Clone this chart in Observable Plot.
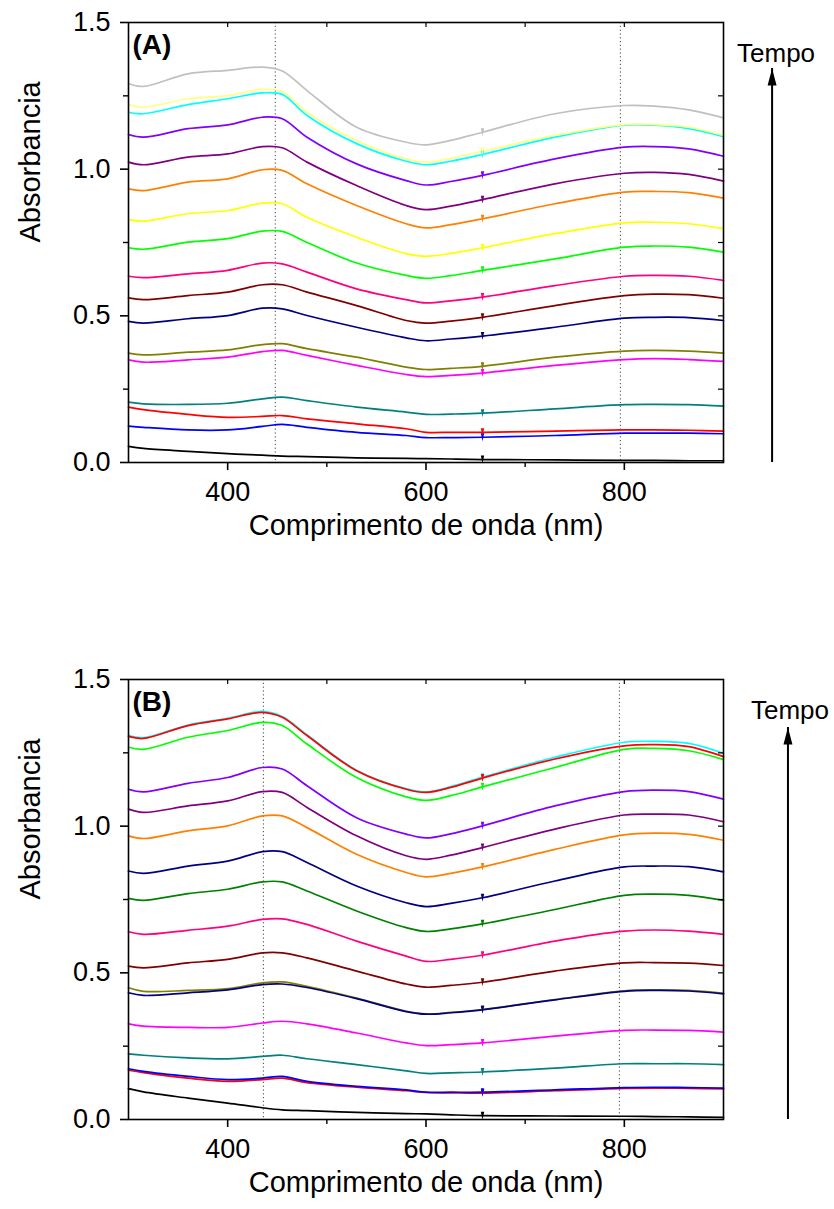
<!DOCTYPE html>
<html>
<head>
<meta charset="utf-8">
<script src="https://cdn.jsdelivr.net/npm/d3@7"></script>
<script src="https://cdn.jsdelivr.net/npm/@observablehq/plot@0.6"></script>
<style>
  html, body { margin: 0; padding: 0; background: #fff; }
  #wrap { position: relative; width: 834px; height: 1209px; background: #fff; }
  #wrap > div { position: absolute; left: 0; }
</style>
</head>
<body>
<div id="wrap"><div id="pa" style="top:0px"></div><div id="pb" style="top:657px"></div></div>
<script>
// Wavelength sampling points (nm)
const wavelengths = [300, 315, 360, 400, 435, 455, 480, 530, 580, 600, 625, 657, 730, 800, 830, 865, 900];
// Wavelength of the small instrument glitch (lamp change)
const glitchWavelength = 657;

// ---- Panel (A) absorbance spectra ----
const A_gray      = [1.291, 1.282, 1.325, 1.337, 1.348, 1.335, 1.268, 1.143, 1.092, 1.083, 1.098, 1.126, 1.189, 1.217, 1.215, 1.202, 1.175];
const A_lightyel  = [1.220, 1.211, 1.240, 1.251, 1.272, 1.265, 1.194, 1.098, 1.035, 1.024, 1.037, 1.061, 1.115, 1.152, 1.152, 1.143, 1.115];
const A_cyan      = [1.194, 1.189, 1.220, 1.240, 1.260, 1.255, 1.183, 1.087, 1.027, 1.015, 1.027, 1.050, 1.109, 1.150, 1.150, 1.138, 1.111];
const A_violet    = [1.118, 1.109, 1.138, 1.151, 1.177, 1.172, 1.109, 1.018, 0.961, 0.946, 0.958, 0.979, 1.035, 1.075, 1.077, 1.069, 1.044];
const A_purple    = [1.024, 1.015, 1.041, 1.052, 1.077, 1.073, 1.024, 0.944, 0.876, 0.862, 0.874, 0.896, 0.950, 0.986, 0.989, 0.982, 0.959];
const A_orange    = [0.933, 0.927, 0.956, 0.967, 0.998, 0.996, 0.950, 0.876, 0.814, 0.800, 0.811, 0.831, 0.882, 0.922, 0.924, 0.920, 0.901];
const A_yellow    = [0.828, 0.823, 0.848, 0.859, 0.884, 0.882, 0.836, 0.768, 0.712, 0.703, 0.713, 0.732, 0.780, 0.817, 0.819, 0.814, 0.797];
const A_green     = [0.732, 0.727, 0.751, 0.763, 0.789, 0.788, 0.750, 0.680, 0.638, 0.628, 0.637, 0.655, 0.694, 0.734, 0.738, 0.734, 0.717];
const A_pink      = [0.635, 0.630, 0.643, 0.655, 0.680, 0.677, 0.649, 0.592, 0.555, 0.544, 0.551, 0.564, 0.603, 0.635, 0.638, 0.635, 0.621];
const A_maroon    = [0.561, 0.555, 0.569, 0.581, 0.606, 0.606, 0.581, 0.535, 0.484, 0.475, 0.482, 0.495, 0.535, 0.569, 0.574, 0.572, 0.560];
const A_navy      = [0.481, 0.475, 0.490, 0.501, 0.526, 0.524, 0.501, 0.461, 0.425, 0.415, 0.421, 0.431, 0.461, 0.492, 0.495, 0.494, 0.484];
const A_olive     = [0.373, 0.367, 0.376, 0.384, 0.402, 0.405, 0.388, 0.359, 0.325, 0.317, 0.321, 0.328, 0.359, 0.380, 0.382, 0.380, 0.373];
const A_magenta   = [0.350, 0.342, 0.350, 0.359, 0.378, 0.382, 0.365, 0.331, 0.300, 0.293, 0.297, 0.305, 0.331, 0.351, 0.354, 0.351, 0.345];
const A_teal      = [0.206, 0.200, 0.198, 0.202, 0.217, 0.223, 0.211, 0.189, 0.172, 0.164, 0.165, 0.168, 0.183, 0.197, 0.198, 0.197, 0.192];
const A_red       = [0.189, 0.180, 0.164, 0.154, 0.157, 0.160, 0.149, 0.132, 0.115, 0.103, 0.103, 0.103, 0.107, 0.111, 0.111, 0.110, 0.107];
const A_blue      = [0.124, 0.120, 0.111, 0.111, 0.123, 0.130, 0.120, 0.103, 0.092, 0.085, 0.085, 0.086, 0.092, 0.100, 0.100, 0.100, 0.098];
const A_black     = [0.055, 0.048, 0.038, 0.030, 0.025, 0.022, 0.020, 0.016, 0.014, 0.013, 0.012, 0.010, 0.009, 0.007, 0.007, 0.006, 0.006];

// ---- Panel (B) absorbance spectra ----
const B_cyan      = [1.309, 1.302, 1.345, 1.368, 1.391, 1.374, 1.312, 1.191, 1.128, 1.117, 1.135, 1.167, 1.235, 1.286, 1.289, 1.282, 1.248];
const B_red       = [1.306, 1.299, 1.343, 1.366, 1.388, 1.371, 1.309, 1.189, 1.126, 1.115, 1.132, 1.164, 1.229, 1.274, 1.278, 1.271, 1.237];
const B_green     = [1.269, 1.262, 1.303, 1.326, 1.354, 1.343, 1.280, 1.166, 1.100, 1.088, 1.104, 1.134, 1.200, 1.262, 1.265, 1.257, 1.227];
const B_violet    = [1.126, 1.117, 1.146, 1.166, 1.200, 1.195, 1.138, 1.029, 0.973, 0.960, 0.974, 1.001, 1.069, 1.118, 1.123, 1.118, 1.092];
const B_purple    = [1.058, 1.047, 1.069, 1.086, 1.118, 1.115, 1.064, 0.967, 0.899, 0.887, 0.901, 0.927, 0.990, 1.038, 1.041, 1.038, 1.015];
const B_orange    = [0.967, 0.958, 0.984, 1.001, 1.035, 1.035, 0.995, 0.904, 0.842, 0.827, 0.839, 0.861, 0.921, 0.970, 0.976, 0.972, 0.952];
const B_navy      = [0.847, 0.839, 0.864, 0.881, 0.913, 0.913, 0.876, 0.796, 0.739, 0.726, 0.737, 0.756, 0.813, 0.861, 0.864, 0.862, 0.844];
const B_dkgreen   = [0.754, 0.747, 0.770, 0.785, 0.810, 0.810, 0.779, 0.711, 0.654, 0.641, 0.650, 0.667, 0.716, 0.764, 0.768, 0.764, 0.747];
const B_pink      = [0.640, 0.631, 0.645, 0.659, 0.682, 0.684, 0.665, 0.608, 0.557, 0.539, 0.546, 0.560, 0.608, 0.642, 0.646, 0.642, 0.631];
const B_maroon    = [0.523, 0.517, 0.534, 0.546, 0.568, 0.568, 0.551, 0.506, 0.462, 0.451, 0.457, 0.468, 0.506, 0.534, 0.535, 0.533, 0.525];
const B_olive     = [0.449, 0.437, 0.440, 0.446, 0.466, 0.469, 0.454, 0.414, 0.369, 0.360, 0.365, 0.375, 0.409, 0.439, 0.442, 0.440, 0.430];
const B_navy2     = [0.432, 0.423, 0.432, 0.442, 0.460, 0.462, 0.450, 0.412, 0.368, 0.359, 0.364, 0.374, 0.408, 0.437, 0.440, 0.438, 0.428];
const B_magenta   = [0.326, 0.318, 0.314, 0.314, 0.329, 0.335, 0.326, 0.295, 0.261, 0.252, 0.255, 0.261, 0.284, 0.304, 0.305, 0.304, 0.298];
const B_teal      = [0.224, 0.219, 0.210, 0.207, 0.215, 0.219, 0.207, 0.187, 0.166, 0.157, 0.159, 0.162, 0.175, 0.190, 0.190, 0.190, 0.187];
const B_red2      = [0.168, 0.160, 0.141, 0.130, 0.136, 0.141, 0.126, 0.110, 0.098, 0.092, 0.091, 0.090, 0.098, 0.106, 0.107, 0.106, 0.104];
const B_blue      = [0.173, 0.164, 0.147, 0.136, 0.141, 0.147, 0.130, 0.113, 0.101, 0.093, 0.093, 0.093, 0.101, 0.109, 0.110, 0.109, 0.107];
const B_black     = [0.105, 0.094, 0.073, 0.056, 0.040, 0.033, 0.030, 0.024, 0.020, 0.019, 0.016, 0.013, 0.012, 0.011, 0.010, 0.009, 0.007];

// Series order (drawing order) and colours
const seriesA = [
  ["black", "#000000", A_black], ["blue", "#0000ff", A_blue], ["red", "#ff0000", A_red],
  ["teal", "#008080", A_teal], ["magenta", "#ff00ff", A_magenta], ["olive", "#808000", A_olive],
  ["navy", "#000080", A_navy], ["maroon", "#800000", A_maroon], ["pink", "#ff0080", A_pink],
  ["green", "#00ff00", A_green], ["yellow", "#ffff00", A_yellow], ["orange", "#ff8000", A_orange],
  ["purple", "#800080", A_purple], ["violet", "#8000ff", A_violet], ["cyan", "#00ffff", A_cyan],
  ["lightyellow", "#ffff80", A_lightyel], ["gray", "#c0c0c0", A_gray]
];
const seriesB = [
  ["black", "#000000", B_black], ["red2", "#ff0000", B_red2], ["blue", "#0000ff", B_blue],
  ["teal", "#008080", B_teal], ["magenta", "#ff00ff", B_magenta], ["olive", "#808000", B_olive],
  ["navy2", "#000080", B_navy2], ["maroon", "#800000", B_maroon], ["pink", "#ff0080", B_pink],
  ["dkgreen", "#008000", B_dkgreen], ["navy", "#000080", B_navy], ["orange", "#ff8000", B_orange],
  ["purple", "#800080", B_purple], ["violet", "#8000ff", B_violet], ["green", "#00ff00", B_green],
  ["cyan", "#00ffff", B_cyan], ["red", "#ff0000", B_red]
];

// Reference (dotted) wavelengths
const dottedA = [448, 796];
const dottedB = [436, 795];

// Axis ticks
const xMajorTicks = [400, 600, 800];
const xMinorTicks = [500, 700];
const xTopTicks = [400, 500, 600, 700, 800];
const yMajorTicks = [0, 0.5, 1.0, 1.5];
const yMinorTicks = [0.25, 0.75, 1.25];
const yRightTicks = [0.25, 0.5, 0.75, 1.0, 1.25];

// "Tempo" annotation (data coordinates, outside the x domain)
const tempoA = {x: 949, y1: 0, y2: 1.343, tx: 953, ty: 1.394, label: "Tempo"};
const tempoB = {x: 965, y1: 0, y2: 1.336, tx: 967, ty: 1.394, label: "Tempo"};

function rowsOf(series) {
  const rows = [];
  for (const [name, color, vals] of series) {
    vals.forEach((v, i) => rows.push({name, color, wl: wavelengths[i], a: v}));
  }
  return rows;
}

const W = 834, H = 560, mL = 128, mR = 111, mT = 22, mB = 98;
const frameW = W - mL - mR, frameH = H - mT - mB;
const font = "'Liberation Sans', Arial, Helvetica, sans-serif";

function panel(series, dotted, tempo, tag) {
  const rows = rowsOf(series);
  const glitches = rows.filter(d => d.wl === glitchWavelength);
  return Plot.plot({
    width: W, height: H,
    marginLeft: mL, marginRight: mR, marginTop: mT, marginBottom: mB,
    x: {domain: [300, 900]},
    y: {domain: [0, 1.5]},
    color: {type: "identity"},
    style: {fontFamily: font, fontSize: "27px", background: "white", color: "black", overflow: "visible"},
    marks: [
      Plot.ruleX(dotted, {stroke: "#444", strokeWidth: 1, strokeDasharray: "1.2,2.6"}),
      Plot.line(rows, {x: "wl", y: "a", z: "name", stroke: "color", strokeWidth: 1.7, curve: "catmull-rom"}),
      Plot.vector(glitches, {x: "wl", y: "a", fill: "color", stroke: "none", length: 8, rotate: 180, shape: "spike", r: 1.7, anchor: "middle"}),
      Plot.frame({stroke: "black", strokeWidth: 1.6}),
      Plot.axisX({ticks: xMajorTicks, tickSize: 8, tickPadding: 11, tickFormat: d3.format("d"), label: null, strokeWidth: 1.6, fontSize: 27}),
      Plot.axisX({ticks: xMinorTicks, tickSize: 5, tickFormat: () => "", label: null, strokeWidth: 1.4}),
      Plot.axisY({ticks: yMajorTicks, tickSize: 8, tickPadding: 10, tickFormat: d3.format(".1f"), label: null, strokeWidth: 1.6, fontSize: 27}),
      Plot.axisY({ticks: yMinorTicks, tickSize: 5, tickFormat: () => "", label: null, strokeWidth: 1.4}),
      Plot.tickX(xTopTicks, {x: d => d, insetBottom: frameH - 5, stroke: "black", strokeWidth: 1.2}),
      Plot.tickY(yRightTicks, {y: d => d, insetLeft: frameW - 5, stroke: "black", strokeWidth: 1.2}),
      Plot.text(["Comprimento de onda (nm)"], {frameAnchor: "bottom", dy: 72, fontSize: 29, fill: "black"}),
      Plot.text(["Absorbancia"], {frameAnchor: "left", dx: -98, rotate: -90, fontSize: 29, fill: "black"}),
      Plot.text([tag], {frameAnchor: "top-left", dx: 4, dy: 12, lineAnchor: "top", textAnchor: "start", fontWeight: "bold", fontSize: 28, fill: "black"}),
      Plot.ruleX([tempo], {x: "x", y1: "y1", y2: "y2", stroke: "black", strokeWidth: 2}),
      Plot.vector([tempo], {x: "x", y: "y2", length: 17, rotate: 0, shape: "spike", r: 4.5, anchor: "end", fill: "black", stroke: "none"}),
      Plot.text([tempo], {x: "tx", y: "ty", text: "label", fontSize: 26, fill: "black"})
    ]
  });
}

document.getElementById("pa").appendChild(panel(seriesA, dottedA, tempoA, "(A)"));
document.getElementById("pb").appendChild(panel(seriesB, dottedB, tempoB, "(B)"));
</script>
</body>
</html>
